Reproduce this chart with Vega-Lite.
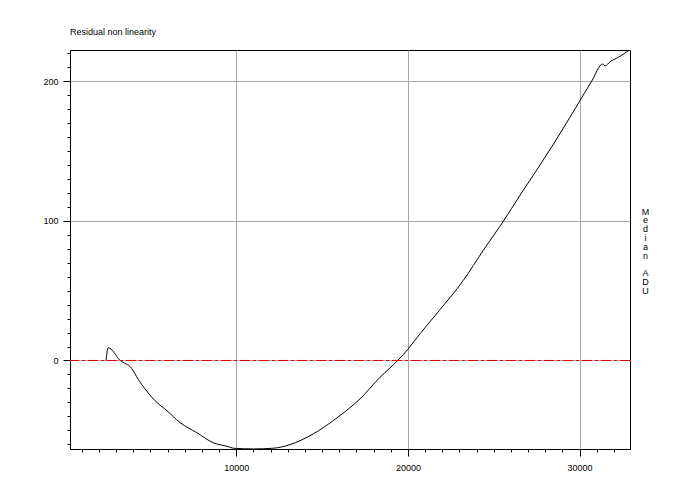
{
  "$schema": "https://vega.github.io/schema/vega-lite/v6.json",
  "width": 560,
  "height": 399,
  "autosize": {"type": "none"},
  "padding": {"left": 70, "top": 50, "right": 70, "bottom": 51},
  "background": "white",
  "title": {
    "text": "Residual non linearity",
    "anchor": "start",
    "frame": "group",
    "offset": 5,
    "font": "Liberation Sans",
    "fontSize": 9,
    "fontWeight": "normal",
    "color": "black",
    "baseline": "alphabetic"
  },
  "config": {
    "view": {"stroke": "black", "strokeWidth": 1},
    "axis": {
      "labelFont": "Liberation Sans",
      "labelFontSize": 9,
      "labelColor": "black",
      "titleFont": "Liberation Sans",
      "titleFontSize": 9,
      "titleFontWeight": "normal",
      "titleColor": "black",
      "domainColor": "black",
      "tickColor": "black",
      "gridColor": "#a8a8a8",
      "gridWidth": 1
    }
  },
  "datasets": {
    "curve": [
      {"adu": 2407, "res": 0},
      {"adu": 2541, "res": 9.1},
      {"adu": 3223, "res": 0.2},
      {"adu": 3904, "res": -5.7},
      {"adu": 4289, "res": -13.6},
      {"adu": 4679, "res": -20.3},
      {"adu": 5262, "res": -28.7},
      {"adu": 5944, "res": -35.8},
      {"adu": 6719, "res": -44.4},
      {"adu": 7692, "res": -51.6},
      {"adu": 8642, "res": -58.8},
      {"adu": 9516, "res": -61.6},
      {"adu": 9825, "res": -62.8},
      {"adu": 10991, "res": -63.3},
      {"adu": 12156, "res": -62.8},
      {"adu": 13129, "res": -60.2},
      {"adu": 14487, "res": -52.5},
      {"adu": 15653, "res": -43.0},
      {"adu": 16043, "res": -39.4},
      {"adu": 17209, "res": -27.5},
      {"adu": 18374, "res": -12.0},
      {"adu": 19406, "res": 0},
      {"adu": 20023, "res": 8.4},
      {"adu": 20705, "res": 19.1},
      {"adu": 21830, "res": 35.8},
      {"adu": 23228, "res": 57.3},
      {"adu": 24394, "res": 78.9},
      {"adu": 25559, "res": 99.6},
      {"adu": 26533, "res": 118.3},
      {"adu": 27657, "res": 139.1},
      {"adu": 28864, "res": 162.5},
      {"adu": 29988, "res": 185.2},
      {"adu": 30711, "res": 200},
      {"adu": 31352, "res": 212.2},
      {"adu": 31486, "res": 210.8},
      {"adu": 31777, "res": 213.8},
      {"adu": 32261, "res": 217},
      {"adu": 32902, "res": 222.2}
    ],
    "zero": [{"level": 0}]
  },
  "layer": [
    {
      "data": {"name": "curve"},
      "mark": {"type": "line", "color": "black", "strokeWidth": 1, "clip": true, "interpolate": "monotone"},
      "encoding": {
        "x": {
          "field": "adu",
          "type": "quantitative",
          "scale": {"domain": [310, 32940], "nice": false, "zero": false},
          "axis": {
            "title": null,
            "values": [1000,2000,3000,4000,5000,6000,7000,8000,9000,10000,11000,12000,13000,14000,15000,16000,17000,18000,19000,20000,21000,22000,23000,24000,25000,26000,27000,28000,29000,30000,31000,32000],
            "format": "d",
            "labelExpr": "datum.value % 10000 === 0 ? datum.label : ''",
            "tickSize": {"condition": {"test": "datum.value % 10000 === 0", "value": 7}, "value": 3},
            "labelPadding": 7,
            "labelFlush": false,
            "labelOverlap": false,
            "grid": true,
            "gridOpacity": {"condition": {"test": "datum.value % 10000 === 0", "value": 1}, "value": 0}
          }
        },
        "y": {
          "field": "res",
          "type": "quantitative",
          "scale": {"domain": [-63.35, 222.2], "nice": false, "zero": false},
          "axis": {
            "title": null,
            "orient": "left",
            "values": [-60,-50,-40,-30,-20,-10,0,10,20,30,40,50,60,70,80,90,100,110,120,130,140,150,160,170,180,190,200,210,220],
            "labelExpr": "datum.value % 100 === 0 ? datum.label : ''",
            "tickSize": {"condition": {"test": "datum.value % 100 === 0", "value": 7}, "value": 3},
            "labelPadding": 5,
            "labelFlush": false,
            "labelOverlap": false,
            "grid": true,
            "gridOpacity": {"condition": {"test": "datum.value % 100 === 0", "value": 1}, "value": 0}
          }
        }
      }
    },
    {
      "data": {"name": "zero"},
      "mark": {"type": "rule", "color": "#e00000", "strokeWidth": 1, "strokeDash": [10, 3, 3, 3]},
      "encoding": {
        "y": {
          "field": "level",
          "type": "quantitative",
          "axis": {
            "orient": "right",
            "title": ["M", "e", "d", "i", "a", "n", "\u200b", "A", "D", "U"],
            "titleAngle": 0,
            "titleAlign": "center",
            "titleBaseline": "middle",
            "titleLineHeight": 8.8,
            "titleX": 15,
            "titleY": 161,
            "labels": false,
            "ticks": false,
            "domain": false,
            "grid": false
          }
        }
      }
    }
  ],
  "resolve": {"axis": {"y": "independent"}}
}
